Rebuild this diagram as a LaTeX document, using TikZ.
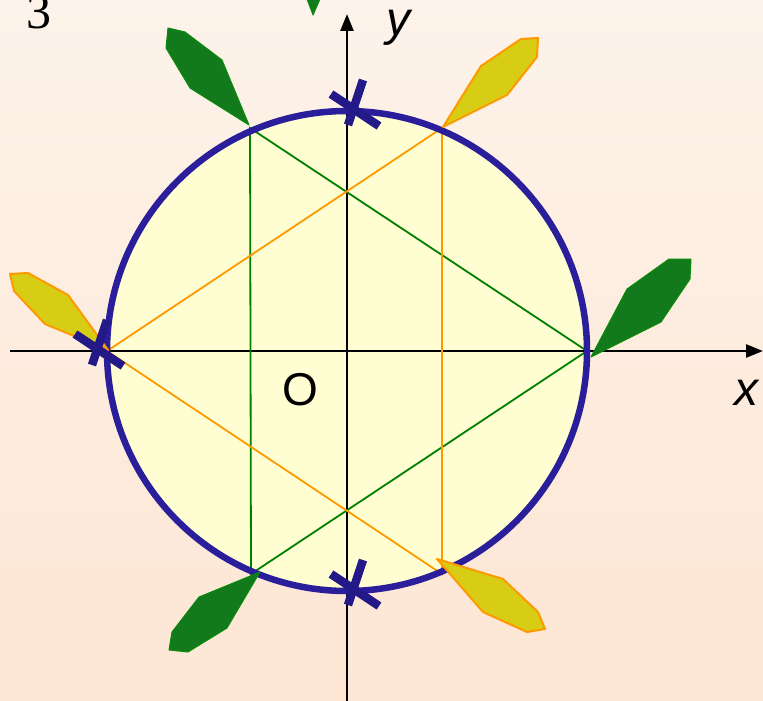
\documentclass[tikz,border=0pt]{standalone}
\usepackage{fontspec}
\setmainfont{Liberation Serif}
\newfontfamily\arialfont{Liberation Sans}
\usetikzlibrary{arrows.meta}
\definecolor{bgtop}{RGB}{253,243,234}
\definecolor{bgbot}{RGB}{253,230,212}
\definecolor{circfill}{RGB}{255,253,210}
\definecolor{circline}{RGB}{42,30,155}
\definecolor{crosscol}{RGB}{35,25,135}
\definecolor{leafgreen}{RGB}{18,122,28}
\definecolor{leafgreenline}{RGB}{10,138,10}
\definecolor{linegreen}{RGB}{0,128,0}
\definecolor{leafyellow}{RGB}{215,205,20}
\definecolor{lineorange}{RGB}{255,153,0}
\tikzset{
  axisline/.style={line width=2.5pt, black, -{Triangle[length=17pt,width=13pt]}},
  greenline/.style={linegreen, line width=1.8pt},
  orangeline/.style={lineorange, line width=1.8pt},
  greenleaf/.style={fill=leafgreen, draw=leafgreenline, line width=1pt, line join=round},
  yellowleaf/.style={fill=leafyellow, draw=lineorange, line width=2pt, line join=round},
  crossbar/.style={crosscol, line width=8.5pt},
  biglabel/.style={font=\arialfont\itshape\fontsize{48}{48}\selectfont, anchor=base, inner sep=0pt},
  origlabel/.style={font=\arialfont\fontsize{46}{46}\selectfont, anchor=base, inner sep=0pt},
}
\begin{document}
\begin{tikzpicture}[x=1pt,y=-1pt]
\useasboundingbox (0,0) rectangle (763,701);
\shade[top color=bgtop, bottom color=bgbot] (0,0) rectangle (763,701);
% circle fill
\coordinate (C) at (347,351);
\fill[circfill] (C) circle[radius=240];
% axes
\coordinate (xs) at (10,351);
\coordinate (xe) at (763,351);
\coordinate (ys) at (347,701);
\coordinate (ye) at (347,14);
\draw[axisline] (xs) -- (xe);
\draw[axisline] (ys) -- (ye);
% triangle vertices
\coordinate (G1) at (587,351);
\coordinate (G2) at (250,128);
\coordinate (G3) at (251,574);
\coordinate (O1) at (107,351);
\coordinate (O2) at (442,128);
\coordinate (O3) at (442,574);
\draw[greenline] (G1) -- (G2) -- (G3) -- cycle;
\draw[orangeline] (O1) -- (O2) -- (O3) -- cycle;
% circle outline
\draw[circline, line width=6.5pt] (C) circle[radius=240];
% leaves
\draw[greenleaf] (249,125) -- (222,60) -- (185,32) -- (168,28) -- (166,48) -- (190,88) -- cycle;
\draw[greenleaf] (591,357) -- (627,289) -- (669,259) -- (691,259) -- (690,279) -- (661,322) -- cycle;
\draw[greenleaf] (260,572) -- (199,597) -- (172,632) -- (169,650) -- (188,652) -- (227,628) -- cycle;
\draw[greenleaf] (307,-1) -- (320,-1) -- (313,15) -- cycle;
\draw[yellowleaf] (443,127) -- (481,66) -- (521,39) -- (538,38) -- (537,57) -- (507,95) -- cycle;
\draw[yellowleaf] (108,350) -- (68,295) -- (28,273) -- (10,274) -- (14,291) -- (45,324) -- cycle;
\draw[yellowleaf] (437,559) -- (503,579) -- (538,612) -- (545,629) -- (527,632) -- (483,612) -- cycle;
% crosses
\coordinate (Xtop) at (353,109);
\coordinate (Xleft) at (97,349);
\coordinate (Xbot) at (353,589);
\draw[crossbar] ([shift={(-22,-15)}]Xtop) -- ([shift={(26,17)}]Xtop);
\draw[crossbar] ([shift={(10,-29)}]Xtop) -- ([shift={(-5,16)}]Xtop);
\draw[crossbar] ([shift={(-22,-15)}]Xleft) -- ([shift={(26,17)}]Xleft);
\draw[crossbar] ([shift={(10,-29)}]Xleft) -- ([shift={(-5,16)}]Xleft);
\draw[crossbar] ([shift={(-22,-15)}]Xbot) -- ([shift={(26,17)}]Xbot);
\draw[crossbar] ([shift={(10,-29)}]Xbot) -- ([shift={(-5,16)}]Xbot);
% labels
\node[biglabel] (ylab) at (398,36) {y};
\node[biglabel] (xlab) at (746,405) {x};
\node[origlabel] (olab) at (300,405) {O};
\node[font=\fontsize{50}{50}\selectfont, anchor=base, inner sep=0pt] (num) at (39,29) {3};
\end{tikzpicture}
\end{document}
